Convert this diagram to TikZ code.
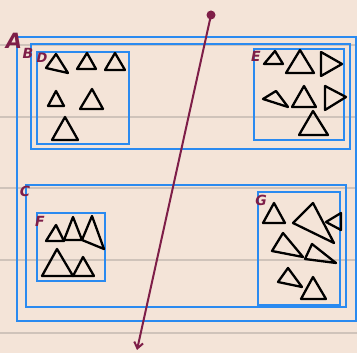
\documentclass[tikz,border=0pt]{standalone}
\usepackage{fontspec}
\setmainfont{Fira Sans}
\newfontfamily\labfont{DejaVu Sans}
\usetikzlibrary{arrows.meta}
\definecolor{paper}{HTML}{F4E4D8}
\definecolor{rule}{HTML}{CFC3BA}
\definecolor{boxblue}{HTML}{2A8AF0}
\definecolor{maroon}{HTML}{7E1E48}
\tikzset{
  setbox/.style={draw=boxblue, line width=2.3pt},
  tri/.style={draw=black, line width=2.3pt, line join=round},
  lab/.style={text=maroon, inner sep=0pt},
  rulel/.style={draw=rule, line width=1.6pt}
}
\begin{document}
\begin{tikzpicture}[x=1pt,y=-1pt]
\useasboundingbox (0,0) rectangle (357,353);
\fill[paper] (0,0) rectangle (357,353);
\foreach \yy in {45,117,188,260,333} \draw[rulel] (0,\yy) -- (357,\yy);
% boxes
\draw[setbox] (17,37) rectangle (356,321);   % A
\draw[setbox] (31,44) rectangle (350,149);   % B
\draw[setbox] (37,52) rectangle (129,144);   % D
\draw[setbox] (254,49) rectangle (344,140);  % E
\draw[setbox] (26,185) rectangle (346,307);  % C
\draw[setbox] (37,213) rectangle (105,281);  % F
\draw[setbox] (258,192) rectangle (340,305); % G
% labels
\node[lab, font=\labfont\bfseries\itshape\fontsize{21}{21}\selectfont] (la) at (14,41) {A};
\node[lab, font=\labfont\bfseries\itshape\fontsize{14}{14}\selectfont] (lb) at (28,53) {B};
\node[lab, font=\labfont\bfseries\itshape\fontsize{13}{13}\selectfont] (ld) at (42,58) {D};
\node[lab, font=\labfont\bfseries\itshape\fontsize{14}{14}\selectfont] (le) at (256,56) {E};
\node[lab, font=\labfont\bfseries\itshape\fontsize{14}{14}\selectfont] (lc) at (25,191) {C};
\node[lab, font=\labfont\bfseries\itshape\fontsize{14}{14}\selectfont] (lf) at (40,221) {F};
\node[lab, font=\labfont\bfseries\itshape\fontsize{14}{14}\selectfont] (lg) at (261,200) {G};
% D triangles
\draw[tri] (46,68)--(56,54)--(68,73)--cycle;
\draw[tri] (77,69)--(87,53)--(96,69)--cycle;
\draw[tri] (105,70)--(115,53)--(125,70)--cycle;
\draw[tri] (48,106)--(56,91)--(64,106)--cycle;
\draw[tri] (80,109)--(92,89)--(103,109)--cycle;
\draw[tri] (52,140)--(65,117)--(78,140)--cycle;
% E triangles
\draw[tri] (264,64)--(275,51)--(283,64)--cycle;
\draw[tri] (286,73)--(300,50)--(314,73)--cycle;
\draw[tri] (321,52)--(342,64)--(321,76)--cycle;
\draw[tri] (263,99)--(276,91)--(288,107)--cycle;
\draw[tri] (292,107)--(304,86)--(316,107)--cycle;
\draw[tri] (325,86)--(346,97)--(325,110)--cycle;
\draw[tri] (299,135)--(313,111)--(328,135)--cycle;
% F triangles
\draw[tri] (46,241)--(56,225)--(64,241)--cycle;
\draw[tri] (64,240)--(73,217)--(82,240)--cycle;
\draw[tri] (82,240)--(92,216)--(104,249)--cycle;
\draw[tri] (42,276)--(57,249)--(73,276)--cycle;
\draw[tri] (73,276)--(83,257)--(94,276)--cycle;
% G triangles
\draw[tri] (263,223)--(274,203)--(285,223)--cycle;
\draw[tri] (293,223)--(313,203)--(334,243)--cycle;
\draw[tri] (326,222)--(341,213)--(341,230)--cycle;
\draw[tri] (272,251)--(283,233)--(303,257)--cycle;
\draw[tri] (305,259)--(312,244)--(336,263)--cycle;
\draw[tri] (278,282)--(288,268)--(302,287)--cycle;
\draw[tri] (301,299)--(313,277)--(326,299)--cycle;
% arrow
\node[circle, fill=maroon, inner sep=0pt, minimum size=9pt] (start) at (211,15) {};
\coordinate (tip) at (137,350);
\draw[maroon, line width=2pt, -{Straight Barb[length=6pt,width=9pt,line width=2pt]}] (start.center) -- (tip);
\end{tikzpicture}
\end{document}
